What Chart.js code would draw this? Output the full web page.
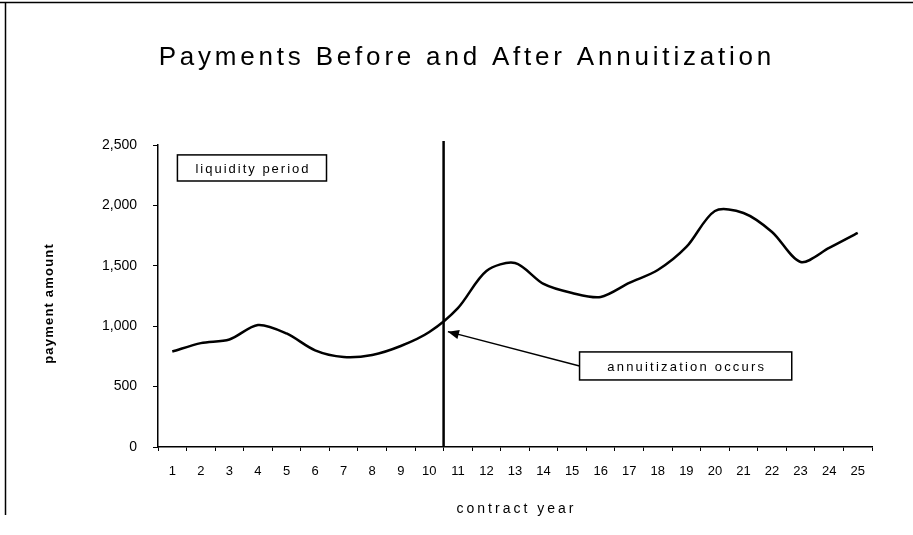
<!DOCTYPE html>
<html>
<head>
<meta charset="utf-8">
<script src="https://cdn.jsdelivr.net/npm/chart.js@4/dist/chart.umd.min.js"></script>
<style>
  html, body { margin: 0; padding: 0; background: #fff; }
  #wrap { width: 913px; height: 535px; position: relative; }
</style>
</head>
<body>
<div id="wrap"><canvas id="chart"></canvas></div>
<script>
const years = ['1', '2', '3', '4', '5', '6', '7', '8', '9', '10', '11', '12', '13',
    '14', '15', '16', '17', '18', '19', '20', '21', '22', '23', '24', '25'];
const payments = [790, 860, 890, 1010, 940, 800, 745, 762, 836, 952, 1150, 1457, 1523,
    1350, 1275, 1242, 1358, 1465, 1656, 1954, 1937, 1780, 1532, 1648, 1772];
const yTicks = [0, 500, 1000, 1500, 2000, 2500];

const chartTitle = 'Payments Before and After Annuitization';
const xTitle = 'contract year';
const yTitle = 'payment amount';
// annuitization happens between year 10 and 11 (index 9.5 on the category scale)
const annuitizationIndex = 9.5;
const liquidityLabel = 'liquidity period';
const annuitizationLabel = 'annuitization occurs';

const font = '"Liberation Sans", Arial, sans-serif';

function spacedText(ctx, text, x, y, spacing) {
    // canvas adds the spacing after the last glyph too, shift it back half
    ctx.letterSpacing = spacing + 'px';
    ctx.fillText(text, x + spacing / 2, y);
    ctx.letterSpacing = '0px';
}

const extrasPlugin = {
    id: 'extras',
    afterDraw(chart) {
        const { ctx, chartArea, scales: { x, y } } = chart;
        ctx.save();

        // scan frame
        ctx.strokeStyle = '#000';
        ctx.lineWidth = 1.5;
        ctx.beginPath();
        ctx.moveTo(0, 2.5); ctx.lineTo(913, 2.5);
        ctx.moveTo(5.5, 2.5); ctx.lineTo(5.5, 515);
        ctx.stroke();

        ctx.fillStyle = '#000';
        ctx.textAlign = 'center';

        // title
        ctx.font = '26px ' + font;
        ctx.textBaseline = 'alphabetic';
        spacedText(ctx, chartTitle, 465, 65, 3.8);

        // axis titles
        ctx.textBaseline = 'middle';
        ctx.font = '14px ' + font;
        spacedText(ctx, xTitle, (chartArea.left + chartArea.right) / 2, 509, 3);
        ctx.save();
        ctx.translate(49, 304);
        ctx.rotate(-Math.PI / 2);
        ctx.font = 'bold 13px ' + font;
        spacedText(ctx, yTitle, 0, 0, 1.2);
        ctx.restore();

        // annuitization divider
        const vx = x.getPixelForValue(annuitizationIndex);
        ctx.lineWidth = 2.5;
        ctx.beginPath();
        ctx.moveTo(vx, chartArea.top - 4);
        ctx.lineTo(vx, chartArea.bottom);
        ctx.stroke();

        // liquidity period box
        ctx.font = '13px ' + font;
        let l = x.getPixelForValue(0.18), r = x.getPixelForValue(5.4);
        let t = y.getPixelForValue(2418), b = y.getPixelForValue(2202);
        ctx.lineWidth = 1.5;
        ctx.fillStyle = '#fff';
        ctx.fillRect(l, t, r - l, b - t);
        ctx.strokeRect(l, t, r - l, b - t);
        ctx.fillStyle = '#000';
        spacedText(ctx, liquidityLabel, (l + r) / 2, (t + b) / 2 + 1, 2);

        // annuitization occurs box + arrow
        l = x.getPixelForValue(14.26); r = x.getPixelForValue(21.69);
        t = y.getPixelForValue(787); b = y.getPixelForValue(555);
        const tipX = x.getPixelForValue(9.65), tipY = y.getPixelForValue(955);
        const tailY = (t + b) / 2;
        ctx.lineWidth = 1.5;
        ctx.beginPath();
        ctx.moveTo(l, tailY);
        ctx.lineTo(tipX, tipY);
        ctx.stroke();
        const ang = Math.atan2(tipY - tailY, tipX - l);
        ctx.beginPath();
        ctx.moveTo(tipX, tipY);
        ctx.lineTo(tipX - 12 * Math.cos(ang - 0.4), tipY - 12 * Math.sin(ang - 0.4));
        ctx.lineTo(tipX - 12 * Math.cos(ang + 0.4), tipY - 12 * Math.sin(ang + 0.4));
        ctx.closePath();
        ctx.fill();
        ctx.fillStyle = '#fff';
        ctx.fillRect(l, t, r - l, b - t);
        ctx.strokeRect(l, t, r - l, b - t);
        ctx.fillStyle = '#000';
        spacedText(ctx, annuitizationLabel, (l + r) / 2, (t + b) / 2 + 1, 2.2);

        ctx.restore();
    }
};

new Chart(document.getElementById('chart'), {
    type: 'line',
    data: {
        labels: years,
        datasets: [{
            label: 'payment amount',
            data: payments,
            borderColor: '#000',
            borderWidth: 2.5,
            pointRadius: 0,
            tension: 0.3,
            fill: false
        }]
    },
    options: {
        responsive: true,
        maintainAspectRatio: false,
        animation: false,
        events: [],
        layout: { padding: { left: 38, right: 41, top: 145, bottom: 15 } },
        plugins: {
            legend: { display: false },
            tooltip: { enabled: false }
        },
        scales: {
            x: {
                offset: true,
                afterFit: (scale) => { scale.height = 73; },
                grid: { drawOnChartArea: false, offset: true, tickLength: 4, color: '#000' },
                border: { color: '#000', width: 1.5 },
                ticks: { color: '#000', padding: 13, maxRotation: 0, autoSkip: false, font: { family: font, size: 13 } }
            },
            y: {
                min: 0,
                max: 2500,
                afterFit: (scale) => { scale.width = 120; },
                afterBuildTicks: (scale) => { scale.ticks = yTicks.map(v => ({ value: v })); },
                grid: { drawOnChartArea: false, tickLength: 5, color: '#000' },
                border: { color: '#000', width: 1.5 },
                ticks: { color: '#000', padding: 16, font: { family: font, size: 14 } }
            }
        }
    },
    plugins: [extrasPlugin]
});
</script>
</body>
</html>
